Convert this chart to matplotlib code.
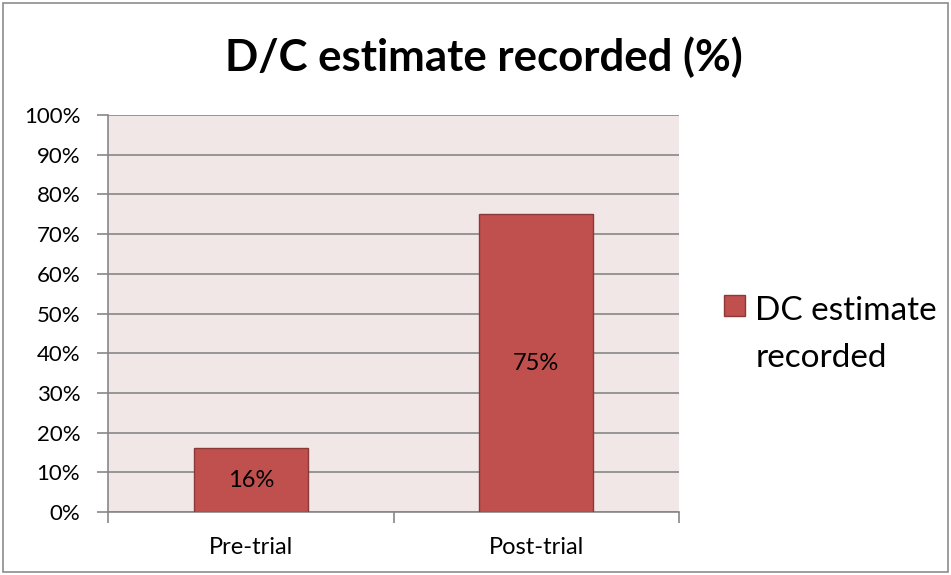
import numpy as np
import matplotlib
matplotlib.use("Agg")
import matplotlib.pyplot as plt
from matplotlib.patches import Rectangle
from matplotlib.legend_handler import HandlerPatch
from matplotlib.ticker import FuncFormatter, FixedLocator

categories = ["Pre-trial", "Post-trial"]
values = [16, 75]
series_name = "DC estimate\nrecorded"
title = "D/C estimate recorded (%)"

plt.rcParams["font.family"] = ["Lato", "DejaVu Sans"]

fig = plt.figure(figsize=(9.51, 5.75), dpi=100)
ax = fig.add_axes([108 / 951, 1 - 512 / 575, (679 - 108) / 951, (512 - 115) / 575])

# outer chart border
fig.patches.append(Rectangle((3 / 951, 3 / 575), 1 - 6 / 951, 1 - 6 / 575,
                             transform=fig.transFigure, fill=False,
                             edgecolor="#8c8c8c", lw=1.2))

ax.set_facecolor("#f2e7e7")
x = np.arange(len(categories))
bars = ax.bar(x, values, 0.40, color="#c0504d", edgecolor="#8c3836", lw=1.0,
              zorder=3)
for b, v in zip(bars, values):
    ax.text(b.get_x() + b.get_width() / 2, v / 2, f"{v}%", ha="center", va="center",
            fontsize=17, color="black", zorder=4)

ax.set_xlim(-0.5, len(categories) - 0.5)
ax.set_ylim(0, 100)
ax.set_yticks(np.arange(0, 101, 10))
ax.yaxis.set_major_formatter(FuncFormatter(lambda v, _: f"{v:.0f}%"))
ax.grid(axis="y", color="#878787", lw=1.2, zorder=1)
ax.tick_params(axis="y", length=8, width=1.2, color="#878787", labelsize=16, pad=12)

# category labels centred, tick marks at boundaries
ax.set_xticks(x)
ax.set_xticklabels(categories, fontsize=17)
ax.tick_params(axis="x", which="major", length=0, pad=18)
ax.xaxis.set_minor_locator(FixedLocator(np.arange(-0.5, len(categories), 1.0)))
ax.tick_params(axis="x", which="minor", length=8, width=1.2, color="#878787")

for s in ("top", "right"):
    ax.spines[s].set_visible(False)
for s in ("left", "bottom"):
    ax.spines[s].set_color("#878787")
    ax.spines[s].set_linewidth(1.2)

fig.text(484 / 951, 1 - 57 / 575, title, ha="center", va="center",
         fontsize=31.5, fontweight="bold")


def top_square(legend, orig_handle, xdescent, ydescent, width, height, fontsize):
    # legend key sits beside the first line of the two-line label
    s = 0.64 * fontsize
    return Rectangle((-xdescent, -ydescent + height - s + 0.28 * fontsize), s, s)


leg = fig.legend(handles=[bars[0]], labels=[series_name],
                 loc="upper left", bbox_to_anchor=(724 / 951, 1 - 296 / 575),
                 frameon=False, fontsize=24, handlelength=0.64, handleheight=2.6,
                 handletextpad=0.3, borderaxespad=0, borderpad=0,
                 handler_map={Rectangle: HandlerPatch(patch_func=top_square)})
for t in leg.get_texts():
    t.set_linespacing(1.7)

fig.savefig("out.png", dpi=100)
